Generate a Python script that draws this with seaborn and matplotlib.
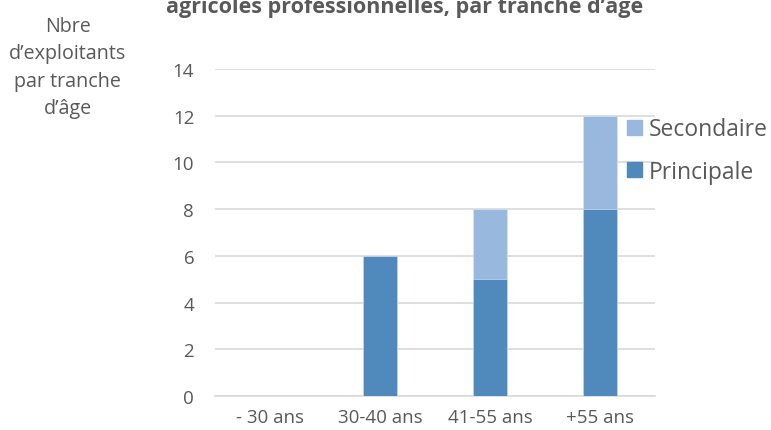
import matplotlib.pyplot as plt
import matplotlib.patches as patches
import pandas as pd
import seaborn as sns

categories = ['- 30 ans', '30-40 ans', '41-55 ans', '+55 ans']
principale = [0, 6, 5, 8]
secondaire = [0, 0, 3, 4]

sns.set_style('white')
plt.rcParams['font.family'] = ['Open Sans', 'DejaVu Sans']

text_color = '#595959'
col_princ = '#508abc'
col_second = '#98b8de'

data = pd.DataFrame({'age': categories, 'principale': principale,
                     'secondaire': secondaire})
data['total'] = data['principale'] + data['secondaire']

fig = plt.figure(figsize=(7.71, 4.31), dpi=100)
ax = fig.add_axes([0.2789, 0.0789, 0.5707, 0.7587])

# stacked: total first, principale drawn over it
sns.barplot(ax=ax, data=data, x='age', y='total', color=col_second,
            width=0.31, saturation=1, linewidth=0.4, edgecolor='#dce6f2',
            zorder=2)
sns.barplot(ax=ax, data=data, x='age', y='principale', color=col_princ,
            width=0.31, saturation=1, linewidth=0.4, edgecolor='#dce6f2',
            zorder=3)

ax.set_xlim(-0.5, 3.5)
ax.set_ylim(0, 14)
ax.set_yticks(range(0, 15, 2))
ax.yaxis.grid(True, color='#d9d9d9', linewidth=1.2, zorder=0)
ax.set_axisbelow(True)
for s in ['top', 'right', 'left']:
    ax.spines[s].set_visible(False)
ax.spines['bottom'].set_color('#d9d9d9')
ax.spines['bottom'].set_linewidth(1.2)
ax.tick_params(length=0, labelsize=13.5, colors=text_color)
ax.tick_params(axis='x', pad=9)
ax.tick_params(axis='y', pad=15)
ax.set_xlabel('')
ax.set_ylabel('')

fig.text(68 / 771, 1 - 68 / 431, 'Nbre\nd\u2019exploitants\npar tranche\nd\u2019âge',
         ha='center', va='center', fontsize=14.2, color=text_color,
         linespacing=1.5)

# first line of the title falls outside the picture
fig.text(405 / 771, 1 - 8 / 431, 'agricoles professionnelles, par tranche d\u2019âge',
         ha='center', va='center', fontsize=15.5, fontweight='bold',
         color=text_color)

handles = [patches.Patch(color=col_second, label='Secondaire'),
           patches.Patch(color=col_princ, label='Principale')]
ax.legend(handles=handles, loc='upper left', bbox_to_anchor=(0.915, 0.88),
          frameon=False, fontsize=16.5, handlelength=0.65, handleheight=0.65,
          handletextpad=0.3, labelspacing=0.8, labelcolor=text_color,
          borderaxespad=0)

fig.savefig('out.png', dpi=100)
